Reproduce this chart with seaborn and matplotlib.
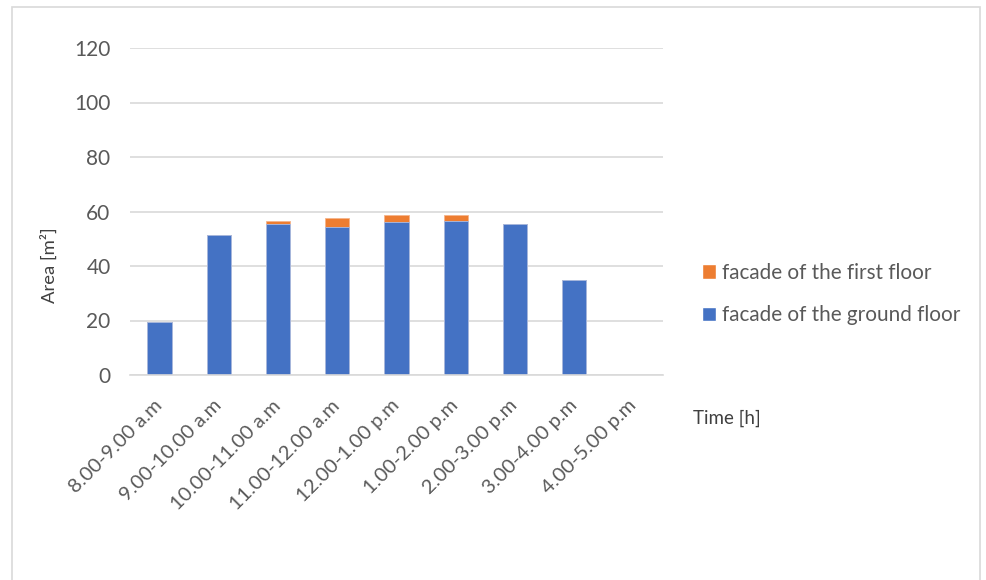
import pandas as pd
import numpy as np
import matplotlib.pyplot as plt
import seaborn as sns
from matplotlib.patches import Patch, Rectangle

# values
time_slots = ['8.00-9.00 a.m', '9.00-10.00 a.m', '10.00-11.00 a.m', '11.00-12.00 a.m',
              '12.00-1.00 p.m', '1.00-2.00 p.m', '2.00-3.00 p.m', '3.00-4.00 p.m',
              '4.00-5.00 p.m']
ground_floor = [19.5, 51.3, 55.3, 54.4, 56.0, 56.4, 55.4, 34.8, 0.0]
first_floor = [0.0, 0.0, 1.2, 3.2, 2.8, 2.2, 0.0, 0.0, 0.0]

BLUE = '#4472C4'
ORANGE = '#ED7D31'
TEXT = '#595959'

sns.set_theme(style='white')
plt.rcParams['font.family'] = ['Lato', 'DejaVu Sans']

df = pd.DataFrame({'time': time_slots, 'ground': ground_floor, 'first': first_floor})
df['total'] = df['ground'] + df['first']

fig = plt.figure(figsize=(9.86, 5.8), dpi=100)
ax = fig.add_axes([130 / 986, 1 - 375 / 580, 533 / 986, 327 / 580])

# stacked bars: total (orange) behind, ground floor (blue) in front
sns.barplot(data=df, x='time', y='total', color=ORANGE, width=0.41, ax=ax,
            edgecolor='#f5b48a', linewidth=0.6, saturation=1)
sns.barplot(data=df, x='time', y='ground', color=BLUE, width=0.41, ax=ax,
            edgecolor='#a9bde6', linewidth=0.6, saturation=1)

ax.set_ylim(0, 120)
ax.set_yticks(np.arange(0, 121, 20))
ax.set_xlim(-0.5, len(time_slots) - 0.5)
ax.yaxis.grid(True, color='#d9d9d9', linewidth=1.2)
ax.set_axisbelow(True)
for s in ['top', 'right', 'left']:
    ax.spines[s].set_visible(False)
ax.spines['bottom'].set_color('#d9d9d9')
ax.spines['bottom'].set_linewidth(1.2)

ax.tick_params(axis='y', labelsize=15, labelcolor=TEXT, length=0, pad=14)
ax.tick_params(axis='x', labelsize=14.5, labelcolor=TEXT, length=0, pad=20)
ax.set_xticks(range(len(time_slots)))
ax.set_xticklabels(time_slots, rotation=45, ha='right', va='center', rotation_mode='anchor')
ax.set_xlabel('')
ax.set_ylabel('Area [m²]', fontsize=13.3, color='#404040')
ax.yaxis.set_label_coords(-0.135, 0.336)

handles = [Patch(facecolor=ORANGE, label='facade of the first floor'),
           Patch(facecolor=BLUE, label='facade of the ground floor')]
fig.legend(handles=handles, loc='center left', bbox_to_anchor=(702 / 986, 1 - 294 / 580),
           frameon=False, fontsize=14.9, labelcolor=TEXT, handlelength=0.7, handleheight=0.7,
           handletextpad=0.25, labelspacing=1.1, borderaxespad=0, borderpad=0)

fig.text(693 / 986, 1 - 418 / 580, 'Time [h]', fontsize=13.5, color='#404040', va='center')

# light chart border
fig.patches.append(Rectangle((12 / 986, -0.05), 968 / 986, 1.05 - 7 / 580, transform=fig.transFigure,
                             fill=False, edgecolor='#d9d9d9', linewidth=1.2))

fig.savefig('out.png', dpi=100)
